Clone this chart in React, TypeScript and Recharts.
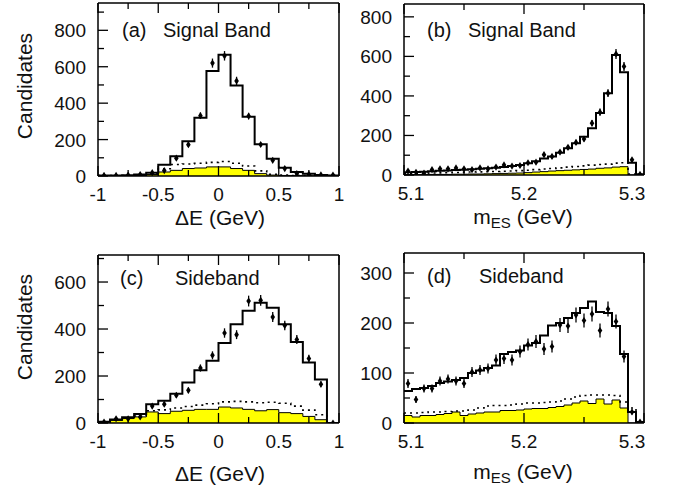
import { Area, ComposedChart, ErrorBar, Label, Line, Scatter, XAxis, YAxis } from "recharts"

const FONT = "'Liberation Sans', Arial, Helvetica, sans-serif"

// ΔE binning: 20 bins of 0.1 GeV
const deEdges = [-1, -0.9, -0.8, -0.7, -0.6, -0.5, -0.4, -0.3, -0.2, -0.1, 0, 0.1, 0.2, 0.3, 0.4, 0.5, 0.6, 0.7, 0.8, 0.9, 1]
const deCenters = [-0.95, -0.85, -0.75, -0.65, -0.55, -0.45, -0.35, -0.25, -0.15, -0.05, 0.05, 0.15, 0.25, 0.35, 0.45, 0.55, 0.65, 0.75, 0.85, 0.95]

// mES binning: 30 bins between 5.10 and 5.30 GeV
const mesLow = 5.1
const mesHigh = 5.3
const mesBins = 30
const mesStep = (mesHigh - mesLow) / mesBins
const mesEdges = Array.from({ length: mesBins + 1 }, (_, i) => mesLow + i * mesStep)
const mesCenters = Array.from({ length: mesBins }, (_, i) => mesLow + (i + 0.5) * mesStep)

// (a) signal band, ΔE
const aHist = [3, 3, 4, 8, 18, 62, 108, 191, 320, 577, 666, 497, 325, 175, 95, 45, 22, 12, 5, 3]
const aBkg = [1, 1, 2, 3, 8, 22, 31, 41, 44, 50, 50, 41, 31, 13, 5, 3, 2, 1, 1, 1]
const aTot = [2, 2, 3, 5, 12, 40, 63, 66, 70, 75, 80, 70, 55, 28, 10, 5, 3, 2, 2, 2]
const aData = [3, 3, 5, 8, 18, 30, 98, 172, 331, 620, 660, 522, 329, 173, 86, 41, 13, 9, 6, 5]
const aErr = [2, 2, 2, 3, 4, 6, 10, 13, 18, 25, 26, 23, 18, 13, 9, 6, 4, 3, 2, 2]

// (b) signal band, mES
const bHist = [14, 15, 17, 19, 21, 23, 25, 27, 29, 31, 34, 37, 41, 45, 50, 60, 70, 83, 94, 113, 135, 160, 194, 236, 313, 414, 607, 520, 62, 4]
const bBkg = [2, 2, 2, 3, 3, 3, 4, 4, 5, 5, 6, 7, 8, 9, 10, 12, 15, 17, 20, 22, 24, 26, 28, 30, 34, 36, 40, 42, 0, 0]
const bTot = [8, 8, 9, 10, 11, 12, 13, 14, 15, 16, 17, 18, 19, 20, 22, 24, 27, 30, 33, 36, 40, 43, 46, 50, 53, 55, 60, 62, 5, 0]
const bData = [20, 14, 10, 27, 31, 31, 36, 31, 27, 36, 31, 40, 51, 45, 48, 62, 65, 103, 94, 116, 140, 165, 182, 262, 318, 414, 612, 549, 77, 3]
const bErr = [4, 4, 3, 5, 6, 6, 6, 6, 5, 6, 6, 6, 7, 7, 7, 8, 8, 10, 10, 11, 12, 13, 13, 16, 18, 20, 25, 23, 9, 2]

// (c) sideband, ΔE
const cHist = [5, 15, 25, 38, 80, 95, 125, 172, 225, 265, 340, 420, 478, 512, 490, 420, 345, 258, 185, 0]
const cBkg = [4, 11, 19, 26, 47, 40, 50, 54, 58, 58, 68, 64, 58, 52, 57, 44, 40, 28, 14, 0]
const cTot = [5, 13, 21, 30, 52, 56, 64, 70, 76, 82, 90, 92, 90, 86, 88, 84, 72, 55, 35, 0]
const cData = [4, 18, 18, 26, 72, 80, 118, 139, 234, 288, 383, 376, 519, 522, 451, 415, 355, 274, 165, 0]
const cErr = [2, 4, 4, 5, 9, 9, 11, 12, 15, 17, 20, 19, 23, 23, 21, 20, 19, 17, 13, 1]

// (d) sideband, mES
const dHist = [64, 68, 70, 74, 80, 83, 86, 90, 100, 105, 110, 115, 138, 142, 145, 155, 160, 175, 195, 200, 210, 220, 230, 243, 222, 220, 194, 138, 22, 2]
const dBkg = [15, 12, 15, 15, 17, 19, 22, 15, 18, 20, 22, 22, 25, 25, 26, 28, 29, 29, 31, 33, 36, 40, 44, 39, 48, 38, 46, 30, 0, 0]
const dTot = [20, 20, 21, 22, 22, 23, 24, 24, 26, 30, 34, 35, 35, 36, 38, 40, 40, 41, 42, 44, 48, 52, 55, 56, 56, 56, 55, 42, 30, 0]
const dData = [79, 47, 69, 69, 84, 88, 84, 79, 102, 106, 109, 126, 129, 126, 143, 157, 163, 148, 153, 196, 194, 216, 205, 218, 185, 228, 203, 133, 22, 2]
const dErr = [9, 7, 8, 8, 9, 9, 9, 9, 10, 10, 10, 11, 11, 11, 12, 12, 13, 12, 12, 14, 14, 15, 14, 15, 14, 15, 14, 12, 5, 1]

// axis ticks
const deTicks = [-1, -0.75, -0.5, -0.25, 0, 0.25, 0.5, 0.75, 1]
const deLabels = [-1, -0.5, 0, 0.5, 1]
const mesTicks = [5.1, 5.15, 5.2, 5.25, 5.3]
const mesLabels = [5.1, 5.2, 5.3]
const aYTicks = [0, 100, 200, 300, 400, 500, 600, 700, 800, 900]
const aYLabels = [0, 200, 400, 600, 800]
const bYTicks = [0, 100, 200, 300, 400, 500, 600, 700, 800]
const bYLabels = [0, 200, 400, 600, 800]
const cYTicks = [0, 100, 200, 300, 400, 500, 600, 700]
const cYLabels = [0, 200, 400, 600]
const dYTicks = [0, 50, 100, 150, 200, 250, 300]
const dYLabels = [0, 100, 200, 300]

const histRows = (edges: number[], solid: number[], fill: number[], dotted: number[]) =>
    edges.map((x, i) => {
        const k = Math.min(i, solid.length - 1)
        return { x, solid: solid[k], fill: fill[k], dotted: dotted[k] }
    })

const pointRows = (centers: number[], vals: number[], errs: number[]) =>
    centers.map((x, i) => ({ x, y: vals[i], err: errs[i] }))

const has = (list: number[], v: number) => list.some((t) => Math.abs(t - v) < 1e-9)

const makeTick = (side: string, labeled: number[], shift: Record<string, number> = {}) => (p: any) => {
    const { x, y, payload } = p
    const v = payload.value
    const major = has(labeled, v)
    const len = major ? 10 : 6
    const txt = { fontFamily: FONT, fontSize: 19, fill: "#111" }
    if (side === "bottom") {
        return (
            <g>
                <line x1={x} y1={y} x2={x} y2={y - len} stroke="#000" strokeWidth={1.3} />
                {major && (
                    <text x={x + (shift[String(v)] || 0)} y={y + 25} textAnchor="middle" {...txt}>
                        {String(v)}
                    </text>
                )}
            </g>
        )
    }
    if (side === "top") {
        return <line x1={x} y1={y} x2={x} y2={y + len} stroke="#000" strokeWidth={1.3} />
    }
    if (side === "left") {
        return (
            <g>
                <line x1={x} y1={y} x2={x + len} y2={y} stroke="#000" strokeWidth={1.3} />
                {major && (
                    <text x={x - 12} y={y + 7} textAnchor="end" {...txt}>
                        {String(v)}
                    </text>
                )}
            </g>
        )
    }
    return <line x1={x} y1={y} x2={x - len} y2={y} stroke="#000" strokeWidth={1.3} />
}

const Marker = (p: any) => (
    <path
        d={`M${p.cx},${p.cy - 3.6} L${p.cx + 2.3},${p.cy} L${p.cx},${p.cy + 3.6} L${p.cx - 2.3},${p.cy} Z`}
        fill="#000"
    />
)

const deTitle = (cx: number, by: number) => (
    <text x={cx} y={by} textAnchor="middle" fontFamily={FONT} fontSize={21} fill="#111">
        ΔE (GeV)
    </text>
)

const mesTitle = (cx: number, by: number) => (
    <text x={cx} y={by} textAnchor="middle" fontFamily={FONT} fontSize={21} fill="#111">
        <tspan>m</tspan>
        <tspan fontSize={15} dy={4}>ES</tspan>
        <tspan dy={-4}> (GeV)</tspan>
    </text>
)

function Panel(props: any) {
    const { left, top, width, height, margin, yw, xh, xDomain, xTicks, xLabels, xShift, yDomain, yTicks, yLabels, rows, points, title, candY, tag, name, tagPos, namePos } = props
    const frame = { stroke: "#000", strokeWidth: 1.5 }
    return (
        <div style={{ position: "absolute", left, top }}>
            <ComposedChart width={width} height={height} data={rows} margin={margin}>
                <Area type="stepAfter" dataKey="fill" fill="#ffff00" fillOpacity={1} stroke="#000" strokeWidth={1} isAnimationActive={false} />
                <Line type="stepAfter" dataKey="dotted" stroke="#000" strokeWidth={1.6} strokeDasharray="2 4" dot={false} isAnimationActive={false} />
                <Line type="stepAfter" dataKey="solid" stroke="#000" strokeWidth={2} dot={false} isAnimationActive={false} />
                <Scatter data={points} dataKey="y" shape={Marker} isAnimationActive={false}>
                    <ErrorBar dataKey="err" direction="y" width={0} stroke="#000" strokeWidth={1.3} />
                </Scatter>
                <XAxis type="number" dataKey="x" domain={xDomain} ticks={xTicks} interval={0} height={xh} axisLine={frame} tickLine={false} tickSize={0} tickMargin={0} tick={makeTick("bottom", xLabels, xShift)}>
                    <Label content={() => title} />
                </XAxis>
                <XAxis xAxisId="top" orientation="top" type="number" dataKey="x" domain={xDomain} ticks={xTicks} interval={0} height={1} axisLine={frame} tickLine={false} tickSize={0} tickMargin={0} tick={makeTick("top", xLabels)} />
                <YAxis type="number" domain={yDomain} ticks={yTicks} interval={0} width={yw} axisLine={frame} tickLine={false} tickSize={0} tickMargin={0} allowDataOverflow tick={makeTick("left", yLabels)}>
                    <Label
                        content={() => (
                            <g fontFamily={FONT} fill="#111">
                                {candY !== undefined && (
                                    <text x={24} y={candY} textAnchor="middle" dominantBaseline="central" fontSize={21} transform={`rotate(-90 24 ${candY})`}>
                                        Candidates
                                    </text>
                                )}
                                <text x={tagPos[0]} y={tagPos[1]} fontSize={20}>{tag}</text>
                                <text x={namePos[0]} y={namePos[1]} fontSize={20}>{name}</text>
                            </g>
                        )}
                    />
                </YAxis>
                <YAxis yAxisId="right" orientation="right" type="number" domain={yDomain} ticks={yTicks} interval={0} width={1} axisLine={frame} tickLine={false} tickSize={0} tickMargin={0} tick={makeTick("right", yLabels)} />
            </ComposedChart>
        </div>
    )
}

export default function App() {
    const mesShift = { "5.1": 7, "5.3": -12 }
    return (
        <div style={{ position: "absolute", left: 0, top: 0, width: 681, height: 489, background: "#fff" }}>
            <Panel
                left={0} top={0} width={350} height={240}
                margin={{ top: 2, right: 10, bottom: 0, left: 0 }} yw={98} xh={64}
                xDomain={[-1, 1]} xTicks={deTicks} xLabels={deLabels} xShift={{}}
                yDomain={[0, 950]} yTicks={aYTicks} yLabels={aYLabels}
                rows={histRows(deEdges, aHist, aBkg, aTot)} points={pointRows(deCenters, aData, aErr)}
                title={deTitle(220, 225)} candY={86}
                tag="(a)" name="Signal Band" tagPos={[122, 37]} namePos={[163, 37]}
            />
            <Panel
                left={340} top={0} width={341} height={240}
                margin={{ top: 3, right: 36, bottom: 0, left: 0 }} yw={64} xh={65}
                xDomain={[mesLow, mesHigh]} xTicks={mesTicks} xLabels={mesLabels} xShift={mesShift}
                yDomain={[0, 865]} yTicks={bYTicks} yLabels={bYLabels}
                rows={histRows(mesEdges, bHist, bBkg, bTot)} points={pointRows(mesCenters, bData, bErr)}
                title={mesTitle(183, 224)}
                tag="(b)" name="Signal Band" tagPos={[87, 37]} namePos={[128, 37]}
            />
            <Panel
                left={0} top={240} width={350} height={249}
                margin={{ top: 14, right: 10, bottom: 0, left: 0 }} yw={98} xh={66}
                xDomain={[-1, 1]} xTicks={deTicks} xLabels={deLabels} xShift={{}}
                yDomain={[0, 715]} yTicks={cYTicks} yLabels={cYLabels}
                rows={histRows(deEdges, cHist, cBkg, cTot)} points={pointRows(deCenters, cData, cErr)}
                title={deTitle(220, 241)} candY={87}
                tag="(c)" name="Sideband" tagPos={[120, 45]} namePos={[175, 45]}
            />
            <Panel
                left={340} top={240} width={341} height={249}
                margin={{ top: 12, right: 36, bottom: 0, left: 0 }} yw={64} xh={66}
                xDomain={[mesLow, mesHigh]} xTicks={mesTicks} xLabels={mesLabels} xShift={mesShift}
                yDomain={[0, 340]} yTicks={dYTicks} yLabels={dYLabels}
                rows={histRows(mesEdges, dHist, dBkg, dTot)} points={pointRows(mesCenters, dData, dErr)}
                title={mesTitle(183, 239)}
                tag="(d)" name="Sideband" tagPos={[87, 43]} namePos={[139, 43]}
            />
        </div>
    )
}
